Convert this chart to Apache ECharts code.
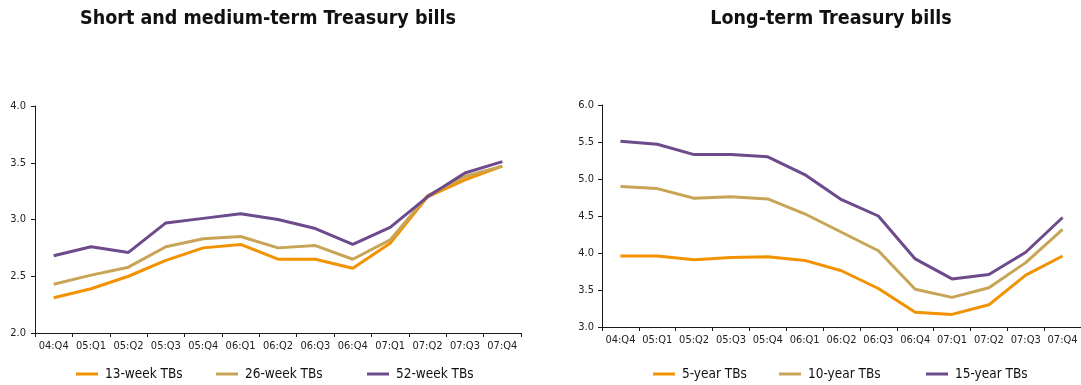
<!DOCTYPE html>
<html>
<head>
<meta charset="utf-8">
<title>Treasury bills yields</title>
<script src="https://cdn.jsdelivr.net/npm/echarts@6/dist/echarts.min.js"></script>
<style>
  html, body { margin: 0; padding: 0; background: #ffffff; }
  #chart { width: 1081px; height: 385px; }
</style>
</head>
<body>
<div id="chart"></div>
<script>
// Quarters shown on both panels
const quarters = ['04:Q4', '05:Q1', '05:Q2', '05:Q3', '05:Q4', '06:Q1', '06:Q2',
                  '06:Q3', '06:Q4', '07:Q1', '07:Q2', '07:Q3', '07:Q4'];

// Short and medium-term bills (yield, %)
const week13 = [2.31, 2.39, 2.50, 2.64, 2.75, 2.78, 2.65, 2.65, 2.57, 2.79, 3.20, 3.35, 3.47];
const week26 = [2.43, 2.51, 2.58, 2.76, 2.83, 2.85, 2.75, 2.77, 2.65, 2.82, 3.21, 3.38, 3.47];
const week52 = [2.68, 2.76, 2.71, 2.97, 3.01, 3.05, 3.00, 2.92, 2.78, 2.93, 3.20, 3.41, 3.51];

// Long-term bills (yield, %)
const year5  = [3.96, 3.96, 3.91, 3.94, 3.95, 3.90, 3.76, 3.52, 3.20, 3.17, 3.30, 3.70, 3.96];
const year10 = [4.90, 4.87, 4.74, 4.76, 4.73, 4.53, 4.28, 4.03, 3.51, 3.40, 3.53, 3.87, 4.32];
const year15 = [5.51, 5.47, 5.33, 5.33, 5.30, 5.06, 4.72, 4.50, 3.92, 3.65, 3.71, 4.01, 4.48];

const titles = ['Short and medium-term Treasury bills', 'Long-term Treasury bills'];
const leftNames = ['13-week TBs', '26-week TBs', '52-week TBs'];
const rightNames = ['5-year TBs', '10-year TBs', '15-year TBs'];

const FONT = '"DejaVu Sans Condensed", "Liberation Sans", sans-serif';
const ORANGE = '#f39200';
const TAN = '#c8a457';
const PURPLE = '#6c4a8b';
const INK = '#1a1a1a';

function xAxis(gridIndex) {
  return {
    type: 'category',
    gridIndex: gridIndex,
    data: quarters,
    boundaryGap: true,
    axisLine: { lineStyle: { color: INK, width: 1 } },
    axisTick: { show: true, length: 4, lineStyle: { color: INK } },
    axisLabel: { color: '#222', fontFamily: FONT, fontSize: 11, margin: 8, interval: 0 },
    splitLine: { show: false }
  };
}

function yAxis(gridIndex, min, max, labelMargin) {
  return {
    type: 'value',
    gridIndex: gridIndex,
    min: min,
    max: max,
    interval: 0.5,
    axisLine: { show: true, lineStyle: { color: INK, width: 1 } },
    axisTick: { show: true, length: 4, lineStyle: { color: INK } },
    axisLabel: {
      color: '#222', fontFamily: FONT, fontSize: 11, margin: labelMargin,
      formatter: function (v) { return v.toFixed(1); }
    },
    splitLine: { show: false }
  };
}

function lineSeries(name, data, color, idx) {
  return {
    name: name,
    type: 'line',
    xAxisIndex: idx,
    yAxisIndex: idx,
    data: data,
    symbol: 'none',
    smooth: false,
    lineStyle: { color: color, width: 3 },
    itemStyle: { color: color },
    z: 2
  };
}

function legendItem(name, left) {
  return {
    data: [name],
    left: left,
    top: 367,
    icon: 'rect',
    itemWidth: 22,
    itemHeight: 3,
    padding: 0,
    selectedMode: false,
    textStyle: { color: '#111', fontFamily: FONT, fontSize: 13.5, padding: [0, 0, 0, 2] }
  };
}

const chart = echarts.init(document.getElementById('chart'), null, { renderer: 'canvas' });

chart.setOption({
  backgroundColor: '#ffffff',
  animation: false,
  graphic: [
    {
      type: 'text', x: 268, y: 9,
      style: { text: titles[0], textAlign: 'center', fill: '#111',
               font: 'bold 19.5px ' + FONT }
    },
    {
      type: 'text', x: 831, y: 9,
      style: { text: titles[1], textAlign: 'center', fill: '#111',
               font: 'bold 19.5px ' + FONT }
    }
  ],
  grid: [
    { left: 35, top: 106, width: 486, height: 227, containLabel: false },
    { left: 602, top: 105, width: 486, height: 222, containLabel: false }
  ],
  xAxis: [xAxis(0), xAxis(1)],
  yAxis: [yAxis(0, 2, 4, 9), yAxis(1, 3, 6, 8)],
  legend: [
    legendItem(leftNames[0], 76),
    legendItem(leftNames[1], 216),
    legendItem(leftNames[2], 367),
    legendItem(rightNames[0], 653),
    legendItem(rightNames[1], 779),
    legendItem(rightNames[2], 926)
  ],
  series: [
    lineSeries(leftNames[0], week13, ORANGE, 0),
    lineSeries(leftNames[1], week26, TAN, 0),
    lineSeries(leftNames[2], week52, PURPLE, 0),
    lineSeries(rightNames[0], year5, ORANGE, 1),
    lineSeries(rightNames[1], year10, TAN, 1),
    lineSeries(rightNames[2], year15, PURPLE, 1)
  ]
});
</script>
</body>
</html>
